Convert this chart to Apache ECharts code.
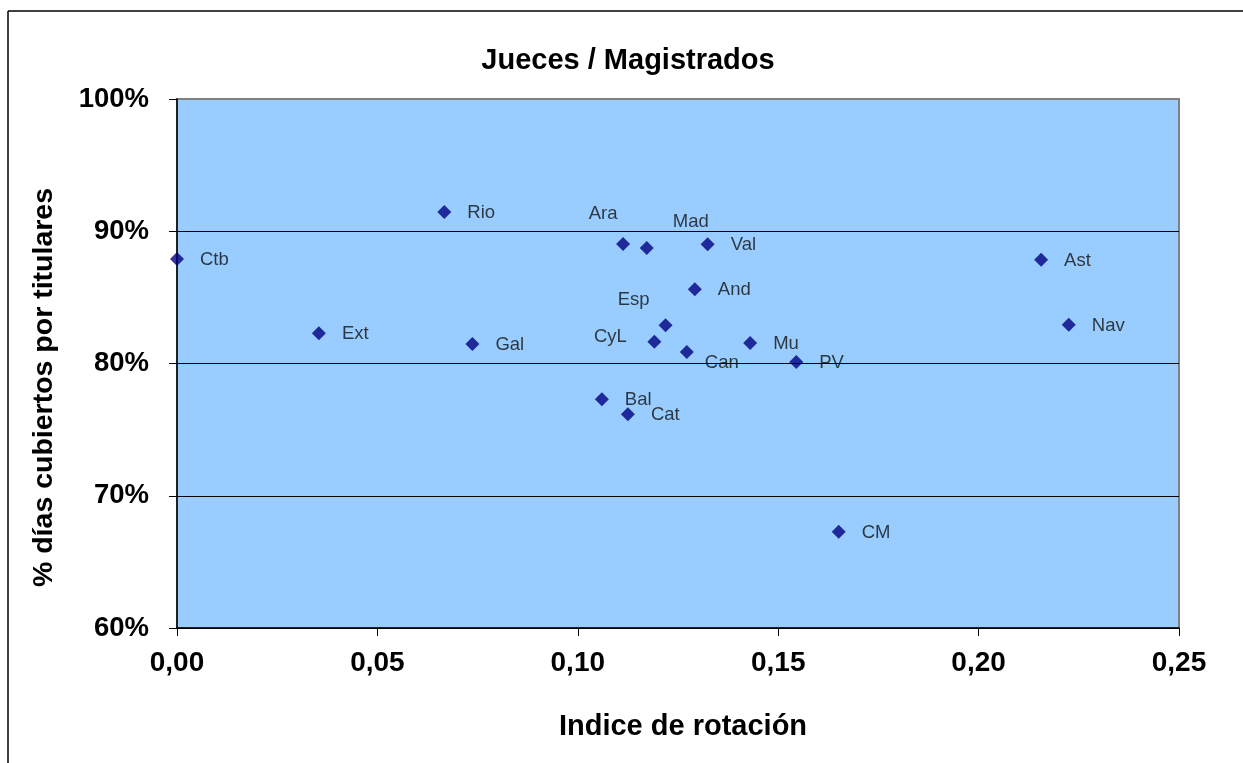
<!DOCTYPE html>
<html>
<head>
<meta charset="utf-8">
<script src="https://cdn.jsdelivr.net/npm/echarts@6/dist/echarts.min.js"></script>
<style>
html,body{margin:0;padding:0;background:#fff;}
#chart{width:1243px;height:763px;}
</style>
</head>
<body>
<div id="chart"></div>
<script>
// Data
var regions = ['Ctb','Rio','Ext','Gal','Ara','Mad','Val','And','Esp','CyL','Can','Mu','PV','Bal','Cat','Ast','Nav','CM'];
var rotationIndex = [0.000,0.0667,0.0354,0.0737,0.1113,0.1172,0.1324,0.1292,0.1219,0.1191,0.1272,0.1430,0.1545,0.1060,0.1125,0.2156,0.2225,0.1651];
var coveredPct = [87.9,91.46,82.28,81.47,89.04,88.73,89.01,85.61,82.89,81.65,80.87,81.55,80.11,77.29,76.16,87.85,82.93,67.28];
var yTicks = [60,70,80,90,100];
var xTicks = [0,0.05,0.10,0.15,0.20,0.25];

// Label placement (layout only): centered labels with offsets from point
var centeredLabelOffsets = {
  'Ara': [-20,-30],
  'Mad': [44,-26],
  'Esp': [-32,-25],
  'CyL': [-44,-5],
  'Can': [35,11]
};

var seriesData = regions.map(function(name,i){
  var item = {name:name, value:[rotationIndex[i], coveredPct[i]]};
  var off = centeredLabelOffsets[name];
  if (off) {
    item.label = {align:'center', offset:off};
  }
  return item;
});

var chart = echarts.init(document.getElementById('chart'), null, {renderer:'canvas'});
var font = 'Liberation Sans, Arial, Helvetica, sans-serif';
chart.setOption({
  animation:false,
  backgroundColor:'#ffffff',
  title:{
    text:'Jueces / Magistrados',
    left:623, top:41, textAlign:'center',
    textStyle:{fontFamily:font, fontSize:29, fontWeight:'bold', color:'#000'}
  },
  grid:{
    left:177, top:99, right:64, bottom:135,
    show:true, backgroundColor:'#99CCFF', borderColor:'#808080', borderWidth:2
  },
  xAxis:{
    type:'value', min:0, max:0.25, interval:0.05,
    name:'Indice de rotación', nameLocation:'middle', nameGap:84,
    nameTextStyle:{fontFamily:font, fontSize:29, fontWeight:'bold', color:'#000', padding:[0,0,0,10]},
    axisLine:{show:true, onZero:false, lineStyle:{color:'#000', width:1.5}},
    axisTick:{show:true, inside:false, length:8, lineStyle:{color:'#000'}},
    axisLabel:{fontFamily:font, fontSize:28, fontWeight:'bold', color:'#000', margin:21,
      formatter:function(v){return v.toFixed(2).replace('.',',');}},
    splitLine:{show:false}
  },
  yAxis:{
    type:'value', min:60, max:100, interval:10,
    name:'% días cubiertos por titulares', nameLocation:'middle', nameGap:118, nameRotate:90,
    nameTextStyle:{fontFamily:font, fontSize:28.5, fontWeight:'bold', color:'#000', padding:[0,48,0,0]},
    axisLine:{show:true, onZero:false, lineStyle:{color:'#000', width:1.5}},
    axisTick:{show:true, inside:false, length:8, lineStyle:{color:'#000'}},
    axisLabel:{fontFamily:font, fontSize:27.5, fontWeight:'bold', color:'#000', margin:28,
      formatter:'{value}%'},
    splitLine:{show:true, lineStyle:{color:['#000','#000','#000','#000','#808080'], width:1}}
  },
  series:[{
    type:'scatter',
    symbol:'diamond',
    symbolSize:14,
    itemStyle:{color:'#000080'},
    label:{
      show:true, position:'inside', align:'left', verticalAlign:'middle',
      offset:[23,1],
      formatter:'{b}',
      fontFamily:font, fontSize:18.5, color:'#111'
    },
    data:seriesData
  }],
  graphic:[
    {type:'line', shape:{x1:8, y1:11, x2:1243, y2:11}, style:{stroke:'#000', lineWidth:1.5}, z:100},
    {type:'line', shape:{x1:8, y1:11, x2:8, y2:763}, style:{stroke:'#000', lineWidth:1.5}, z:100}
  ]
});
</script>
</body>
</html>
